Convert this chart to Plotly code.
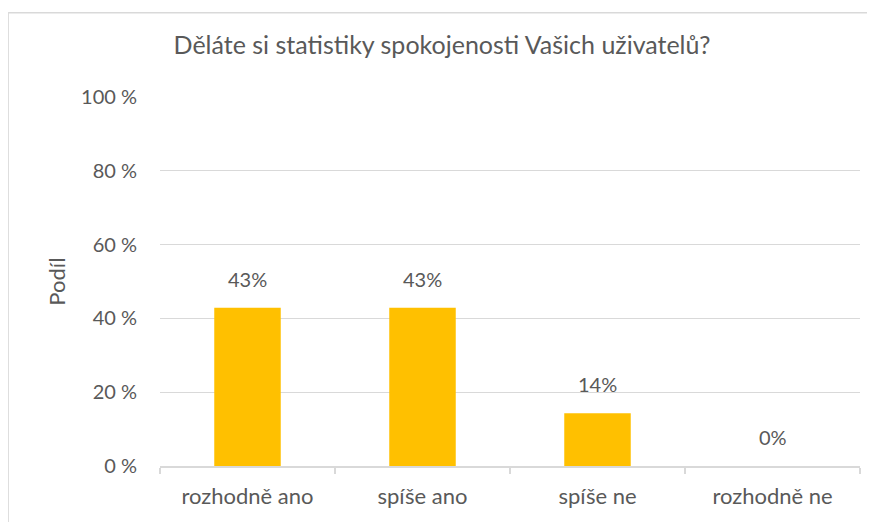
import plotly.graph_objects as go

# data
categories = ["rozhodně ano", "spíše ano", "spíše ne", "rozhodně ne"]
values = [42.86, 42.86, 14.29, 0]
labels = ["43%", "43%", "14%", "0%"]
y_ticks = [0, 20, 40, 60, 80, 100]
y_tick_text = ["0 %", "20 %", "40 %", "60 %", "80 %", "100 %"]

font_family = "Lato, Carlito, Calibri, sans-serif"
text_color = "#595959"

fig = go.Figure()
fig.add_trace(go.Bar(
    x=categories,
    y=values,
    marker=dict(color="#FFC000", line=dict(width=0)),
    width=0.38,
    hoverinfo="x+y",
))

# data labels above the bars
for cat, val, lab in zip(categories, values, labels):
    fig.add_annotation(
        x=cat, y=val, text=lab, showarrow=False,
        yanchor="bottom", yshift=15,
        font=dict(size=20, color=text_color, family=font_family),
    )

# page body adds an 8px offset, margins are adjusted for it
fig.update_layout(
    width=875,
    height=522,
    paper_bgcolor="white",
    plot_bgcolor="white",
    margin=dict(l=152, r=23, t=89, b=64, autoexpand=False),
    showlegend=False,
    font=dict(family=font_family, color=text_color, size=20),
    title=dict(
        text="Děláte si statistiky spokojenosti Vašich uživatelů?",
        x=0.496, xanchor="center", y=0.929, yanchor="middle",
        font=dict(size=25, color=text_color, family=font_family),
    ),
)

fig.update_yaxes(
    range=[0, 100],
    tickvals=y_ticks,
    ticktext=y_tick_text,
    showgrid=True,
    gridcolor="#D9D9D9",
    gridwidth=1,
    zeroline=False,
    showline=False,
    ticks="",
    ticklabelstandoff=22,
    automargin=False,
    tickfont=dict(size=20, color=text_color),
    title=dict(text="Podíl", font=dict(size=22, color=text_color), standoff=9),
)

fig.update_xaxes(
    showline=True,
    linecolor="#D9D9D9",
    linewidth=1.5,
    ticks="outside",
    tickson="boundaries",
    ticklen=6,
    tickcolor="#D9D9D9",
    tickwidth=1.5,
    ticklabelstandoff=10,
    showgrid=False,
    automargin=False,
    tickfont=dict(size=22, color=text_color),
)

# chart area border (Excel style), extends beyond the right/bottom of the picture
border = "#D9D9D9"
fig.add_shape(type="line", xref="paper", yref="paper",
              x0=-0.217, x1=-0.217, y0=-0.3, y1=1.228,
              line=dict(color=border, width=1.5))
fig.add_shape(type="line", xref="paper", yref="paper",
              x0=-0.217, x1=1.1, y0=1.228, y1=1.228,
              line=dict(color=border, width=1.5))

fig.write_html("out.html")
